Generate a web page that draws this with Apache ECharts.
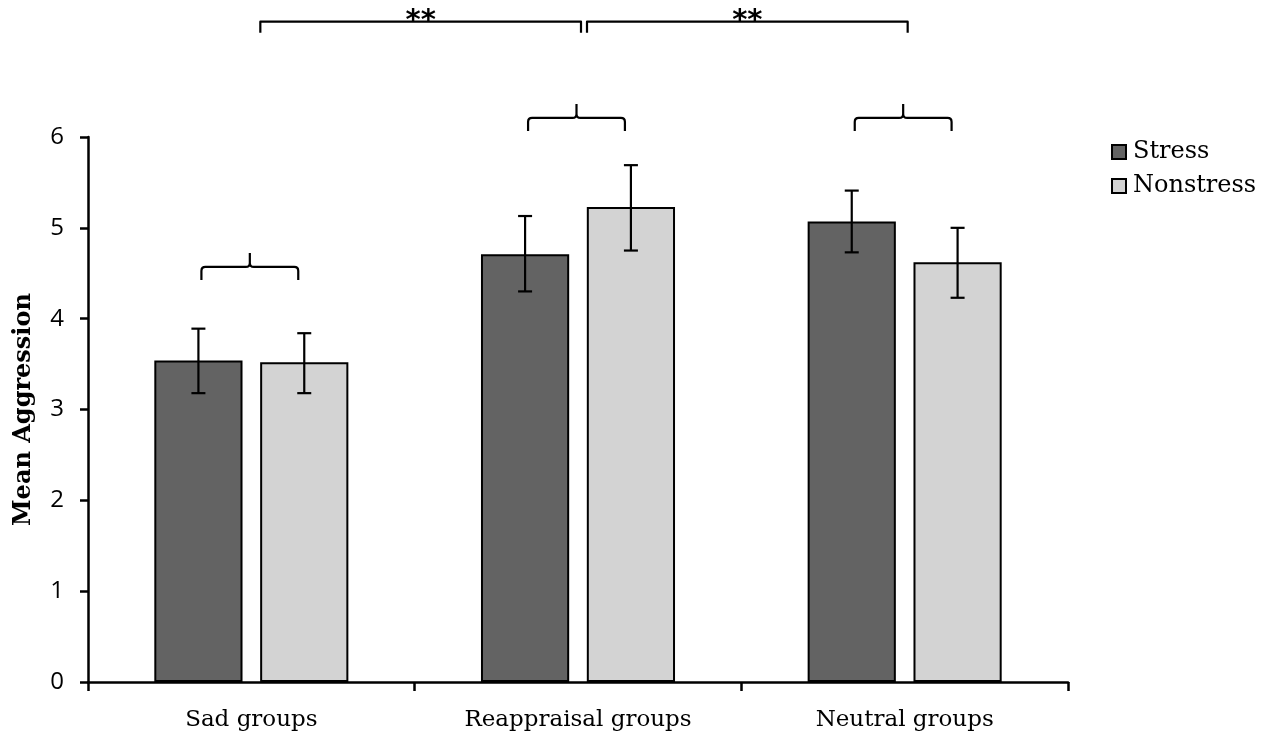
<!DOCTYPE html>
<html>
<head>
	<meta charset="utf-8">
	<title>Mean Aggression</title>
	<script src="https://cdn.jsdelivr.net/npm/echarts@6/dist/echarts.min.js"></script>
	<style>
		html, body { margin: 0; padding: 0; background: #fff; }
		#chart { width: 1267px; height: 744px; }
	</style>
</head>
<body>
	<div id="chart"></div>
	<script type="text/javascript">
		// 组别
		var groups = ['Sad groups', 'Reappraisal groups', 'Neutral groups'];
		// 平均值
		var stressMean = [3.54, 4.71, 5.07];
		var nonstressMean = [3.52, 5.23, 4.62];
		// 误差线 (下限 / 上限)
		var stressLow = [3.18, 4.30, 4.73];
		var stressHigh = [3.89, 5.13, 5.41];
		var nonstressLow = [3.18, 4.75, 4.23];
		var nonstressHigh = [3.84, 5.69, 5.00];
		// 组内比较的括号: [组序号, 高度]
		var pairBrackets = [[0, 4.57], [1, 6.21], [2, 6.21]];
		// 组间比较的括号: [起始组, 结束组, 高度, 标记]
		var groupBrackets = [[0, 1, 7.27, '**'], [1, 2, 7.27, '**']];
		var yTicks = [0, 1, 2, 3, 4, 5, 6];

		var BAR_W = 0.27;   // 柱宽占类目宽度的比例
		var BAR_GAP = 0.2;  // 柱间距占柱宽的比例
		var SHIFT = BAR_W * (1 + BAR_GAP) / 2;

		var chart = echarts.init(document.getElementById('chart'));

		function zip(a, b) {
			return a.map(function (v, i) { return [i, v, b[i]]; });
		}

		function errorBar(side) {
			return function (params, api) {
				var band = api.size([1, 0])[0];
				var lo = api.coord([api.value(0), api.value(1)]);
				var hi = api.coord([api.value(0), api.value(2)]);
				var x = lo[0] + side * SHIFT * band;
				var cap = 7;
				var style = { stroke: '#000', lineWidth: 2.2 };
				return {
					type: 'group',
					children: [
						{ type: 'line', shape: { x1: x, y1: lo[1], x2: x, y2: hi[1] }, style: style },
						{ type: 'line', shape: { x1: x - cap, y1: hi[1], x2: x + cap, y2: hi[1] }, style: style },
						{ type: 'line', shape: { x1: x - cap, y1: lo[1], x2: x + cap, y2: lo[1] }, style: style }
					]
				};
			};
		}

		function renderPair(params, api) {
			var band = api.size([1, 0])[0];
			var p = api.coord([api.value(0), api.value(1)]);
			var x1 = p[0] - SHIFT * band + 3;
			var x2 = p[0] + SHIFT * band - 6;
			var cx = (x1 + x2) / 2;
			var y = p[1];
			var r = 4, drop = 13, peak = 14;
			var d = 'M' + x1 + ' ' + (y + drop) +
				' L' + x1 + ' ' + (y + r) +
				' Q' + x1 + ' ' + y + ' ' + (x1 + r) + ' ' + y +
				' L' + (cx - r) + ' ' + y +
				' Q' + cx + ' ' + y + ' ' + cx + ' ' + (y - r) +
				' L' + cx + ' ' + (y - peak) +
				' M' + cx + ' ' + (y - r) +
				' Q' + cx + ' ' + y + ' ' + (cx + r) + ' ' + y +
				' L' + (x2 - r) + ' ' + y +
				' Q' + x2 + ' ' + y + ' ' + x2 + ' ' + (y + r) +
				' L' + x2 + ' ' + (y + drop);
			return {
				type: 'path',
				shape: { pathData: d },
				style: { fill: null, stroke: '#000', lineWidth: 2.2 }
			};
		}

		function renderGroupBracket(params, api) {
			var a = api.coord([api.value(0), api.value(2)]);
			var b = api.coord([api.value(1), api.value(2)]);
			var x1 = a[0] + 9;
			var x2 = b[0] + 3;
			var y = a[1];
			var drop = 11;
			return {
				type: 'group',
				children: [
					{
						type: 'polyline',
						shape: { points: [[x1, y + drop], [x1, y], [x2, y], [x2, y + drop]] },
						style: { fill: null, stroke: '#000', lineWidth: 2.2, lineJoin: 'round' }
					},
					{
						type: 'text',
						x: (x1 + x2) / 2,
						y: y + 14,
						style: {
							text: groupBrackets[params.dataIndex][3],
							fill: '#000',
							font: 'bold 29px "DejaVu Sans"',
							align: 'center',
							verticalAlign: 'bottom'
						}
					}
				]
			};
		}

		var option = {
			animation: false,
			backgroundColor: '#fff',
			grid: { left: 88, right: 199, top: 137, bottom: 62, containLabel: false },
			legend: {
				orient: 'vertical',
				left: 1106,
				top: 135,
				itemWidth: 14,
				itemHeight: 14,
				itemGap: 10,
				icon: 'rect',
				textStyle: { fontFamily: 'DejaVu Serif', fontSize: 24, color: '#000', padding: [0, 0, 0, 2] },
				data: ['Stress', 'Nonstress']
			},
			xAxis: {
				type: 'category',
				data: groups,
				axisLine: { lineStyle: { color: '#000', width: 2.5 } },
				axisTick: { show: true, length: 9, interval: 0, lineStyle: { color: '#000', width: 2.5 } },
				axisLabel: { fontFamily: 'DejaVu Serif', fontSize: 23, color: '#000', margin: 27 }
			},
			yAxis: {
				type: 'value',
				min: yTicks[0],
				max: yTicks[yTicks.length - 1],
				interval: 1,
				name: 'Mean Aggression',
				nameLocation: 'middle',
				nameGap: 52,
				nameTextStyle: { fontFamily: 'DejaVu Serif', fontWeight: 'bold', fontSize: 24, color: '#000' },
				splitLine: { show: false },
				axisLine: { show: true, lineStyle: { color: '#000', width: 2.5 } },
				axisTick: { show: true, length: 8, lineStyle: { color: '#000', width: 2.5 } },
				axisLabel: { fontFamily: 'Open Sans', fontSize: 24, color: '#000', margin: 24 }
			},
			series: [
				{
					name: 'Stress',
					type: 'bar',
					data: stressMean,
					barWidth: (BAR_W * 100) + '%',
					barGap: (BAR_GAP * 100) + '%',
					itemStyle: { color: '#636363', borderColor: '#000', borderWidth: 2 }
				},
				{
					name: 'Nonstress',
					type: 'bar',
					data: nonstressMean,
					barWidth: (BAR_W * 100) + '%',
					barGap: (BAR_GAP * 100) + '%',
					itemStyle: { color: '#d3d3d3', borderColor: '#000', borderWidth: 2 }
				},
				{
					type: 'custom',
					renderItem: errorBar(-1),
					data: zip(stressLow, stressHigh),
					encode: { x: 0, y: [1, 2] },
					z: 5,
					silent: true
				},
				{
					type: 'custom',
					renderItem: errorBar(1),
					data: zip(nonstressLow, nonstressHigh),
					encode: { x: 0, y: [1, 2] },
					z: 5,
					silent: true
				},
				{
					type: 'custom',
					renderItem: renderPair,
					data: pairBrackets,
					encode: { x: 0, y: 1 },
					clip: false,
					silent: true
				},
				{
					type: 'custom',
					renderItem: renderGroupBracket,
					data: groupBrackets.map(function (b) { return [b[0], b[1], b[2]]; }),
					encode: { x: [0, 1], y: 2 },
					clip: false,
					silent: true
				}
			]
		};

		chart.setOption(option);
	</script>
</body>
</html>
